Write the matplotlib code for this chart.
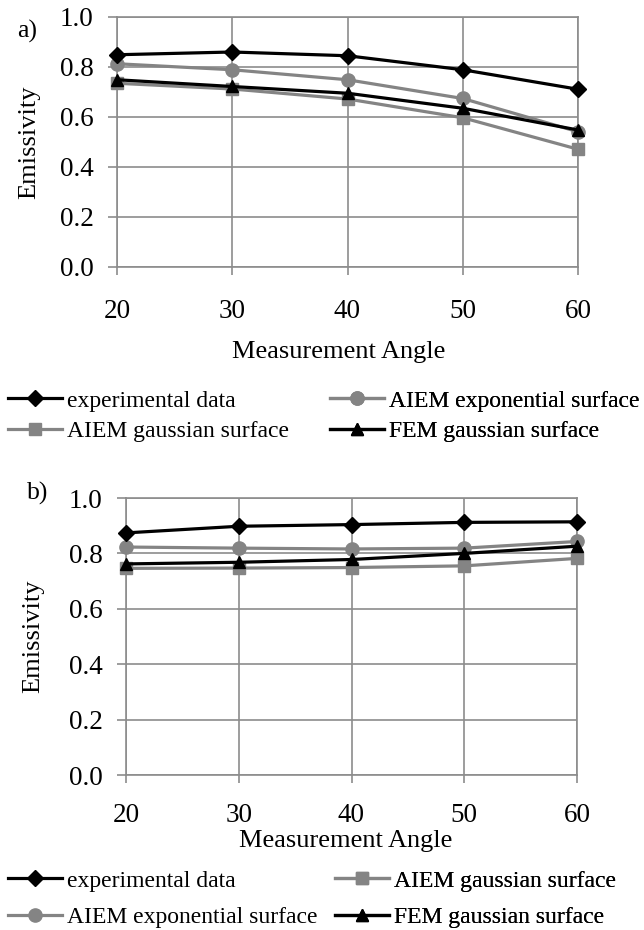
import matplotlib
matplotlib.use("Agg")
import matplotlib.pyplot as plt

plt.rcParams['font.family'] = ['Liberation Serif', 'DejaVu Serif']

angles = [20, 30, 40, 50, 60]

# panel a)
a_experimental = [0.849, 0.860, 0.845, 0.789, 0.711]
a_aiem_exp = [0.813, 0.789, 0.749, 0.674, 0.541]
a_aiem_gauss = [0.735, 0.712, 0.672, 0.597, 0.471]
a_fem_gauss = [0.749, 0.722, 0.695, 0.635, 0.548]

# panel b)
b_experimental = [0.874, 0.898, 0.904, 0.912, 0.914]
b_aiem_exp = [0.823, 0.819, 0.816, 0.819, 0.843]
b_aiem_gauss = [0.746, 0.747, 0.749, 0.755, 0.782]
b_fem_gauss = [0.762, 0.768, 0.778, 0.800, 0.826]

y_ticks = [0.0, 0.2, 0.4, 0.6, 0.8, 1.0]
y_ticklabels = ["0.0", "0.2", "0.4", "0.6", "0.8", "1.0"]

W, H = 644, 930
fig = plt.figure(figsize=(W / 100, H / 100), dpi=100)

GRID = '#8c8c8c'
GRAY = '#848484'


def ax_px(left, top, right, bottom):
    return fig.add_axes([left / W, 1 - bottom / H, (right - left) / W, (bottom - top) / H])


def style(ax, xlabel_center_y_px, axes_bottom, axes_height, xlabel_center_x_frac):
    ax.set_xlim(20, 60)
    ax.set_ylim(0, 1)
    ax.set_xticks(angles)
    ax.set_xticklabels([str(a) for a in angles])
    ax.set_yticks(y_ticks)
    ax.set_yticklabels(y_ticklabels)
    ax.grid(True, color=GRID, linewidth=1.2, zorder=0)
    ax.set_axisbelow(True)
    for s in ax.spines.values():
        s.set_color(GRID)
        s.set_linewidth(1.2)
    ax.tick_params(axis='both', direction='out', color=GRID, width=1.2,
                   labelsize=19.5, labelcolor='black')
    ax.tick_params(axis='x', length=6, pad=17)
    ax.tick_params(axis='y', length=6.5, pad=10.5)
    ax.set_xlabel("Measurement Angle", fontsize=19)
    ax.xaxis.label.set_va('center')
    ax.xaxis.set_label_coords(xlabel_center_x_frac,
                              -(xlabel_center_y_px - axes_bottom) / axes_height)
    ax.set_ylabel("Emissivity", fontsize=19)
    ax.yaxis.label.set_va('center')


def plot_series(ax, exp, aexp, agau, fem):
    h = {}
    h['exp'], = ax.plot(angles, exp, color='black', lw=2.3, marker='D', ms=8,
                        clip_on=False, zorder=5, label='experimental data')
    h['aexp'], = ax.plot(angles, aexp, color=GRAY, lw=2.3, marker='o', ms=9.5,
                         clip_on=False, zorder=3, label='AIEM exponential surface')
    h['agau'], = ax.plot(angles, agau, color=GRAY, lw=2.3, marker='s', ms=8.5,
                         clip_on=False, zorder=3, label='AIEM gaussian surface')
    h['fem'], = ax.plot(angles, fem, color='black', lw=2.3, marker='^', ms=9,
                        clip_on=False, zorder=4, label='FEM gaussian surface')
    return h


def add_legend(ax, handles, x_px, yc_px, spacing):
    leg = ax.legend(handles=handles, loc='center left',
                    bbox_to_anchor=(x_px / W, 1 - yc_px / H),
                    bbox_transform=fig.transFigure, frameon=False, fontsize=17,
                    handlelength=2.3, handletextpad=0.2, borderpad=0,
                    borderaxespad=0, labelspacing=spacing)
    ax.add_artist(leg)
    return leg


# ---- panel a ----
axa = ax_px(117, 17, 578, 267)
style(axa, 352, 267, 250, 0.48)
axa.yaxis.set_label_coords(-(117 - 29) / 461, 0.5)
ha = plot_series(axa, a_experimental, a_aiem_exp, a_aiem_gauss, a_fem_gauss)
add_legend(axa, [ha['exp'], ha['agau']], 8, 416, 0.38)
add_legend(axa, [ha['aexp'], ha['fem']], 330, 416, 0.38)
fig.text(17 / W, 1 - 31 / H, "a)", fontsize=18.5, va='center', ha='left')

# ---- panel b ----
axb = ax_px(126, 498, 577, 775)
style(axb, 841, 775, 277, (346 - 126) / 451)
axb.tick_params(axis='x', pad=14.5)
axb.yaxis.set_label_coords(-(126 - 33) / 451, 0.5)
hb = plot_series(axb, b_experimental, b_aiem_exp, b_aiem_gauss, b_fem_gauss)
add_legend(axb, [hb['exp'], hb['aexp']], 8, 899, 0.62)
add_legend(axb, [hb['agau'], hb['fem']], 335, 899, 0.62)
fig.text(27 / W, 1 - 493 / H, "b)", fontsize=18.5, va='center', ha='left')

fig.savefig("out.png", dpi=100)
